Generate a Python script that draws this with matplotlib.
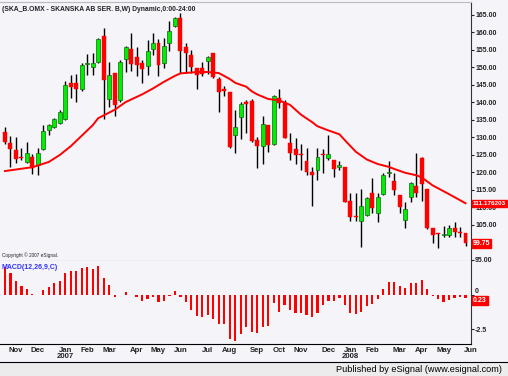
import numpy as np
import pandas as pd
import matplotlib
matplotlib.use("Agg")
import matplotlib.pyplot as plt
from matplotlib.patches import Rectangle

plt.rcParams['font.family'] = ['Liberation Sans', 'DejaVu Sans']

# weekly candles, SKANSKA AB SER. B (weeks ending friday)
opens = [131.6, 128.4, 126.4, 124.4, 123.0, 124.4, 122.1, 126.7, 132.1, 133.0,
         134.1, 135.3, 145.6, 145.6, 143.9, 151.0, 150.1, 151.6, 159.0, 141.0,
         148.4, 140.7, 152.4, 155.3, 153.0, 151.3, 150.4, 155.3, 157.0, 151.3,
         157.0, 161.9, 164.1, 155.9, 153.6, 149.9, 149.9, 151.9, 154.1, 146.7,
         143.7, 143.0, 130.7, 135.9, 140.1, 140.4, 129.3, 127.6, 133.6, 128.1,
         141.3, 139.9, 128.4, 126.7, 125.0, 123.3, 120.1, 120.7, 125.0, 124.1,
         123.6, 121.6, 121.6, 111.9, 107.6, 106.1, 107.9, 114.1, 108.4, 113.9,
         119.9, 117.6, 113.6, 106.4, 113.0, 116.1, 124.1, 115.3, 104.1, 102.7,
         102.1, 102.1, 104.1, 102.7, 102.7]
highs = [133.0, 130.4, 130.1, 127.0, 128.7, 125.3, 127.0, 133.6, 133.9, 135.6,
         137.9, 146.1, 147.9, 148.1, 151.3, 153.9, 154.1, 158.4, 161.3, 151.6,
         148.4, 152.1, 156.1, 159.9, 155.9, 152.1, 157.9, 159.9, 158.1, 158.4,
         163.3, 164.4, 165.6, 157.0, 155.0, 149.9, 151.6, 153.3, 154.1, 147.3,
         144.7, 143.0, 137.9, 140.1, 140.7, 141.0, 130.1, 136.1, 133.6, 142.1,
         143.9, 140.7, 131.3, 129.9, 128.1, 127.0, 121.6, 127.0, 126.7, 130.7,
         123.6, 123.3, 121.6, 114.1, 114.1, 115.3, 113.0, 118.4, 114.1, 119.9,
         123.3, 119.9, 113.6, 111.6, 117.3, 125.6, 124.4, 115.3, 104.1, 102.7,
         104.7, 105.0, 105.9, 104.4, 102.7]
lows = [128.1, 121.6, 122.7, 123.6, 122.7, 119.6, 119.3, 126.4, 130.7, 132.7,
        133.9, 135.0, 141.3, 140.1, 143.3, 147.9, 147.9, 151.3, 135.3, 138.7,
        136.1, 140.1, 148.7, 149.0, 147.6, 145.6, 147.9, 153.6, 147.6, 149.9,
        154.7, 161.6, 148.4, 148.4, 148.4, 143.9, 147.6, 148.1, 147.0, 137.3,
        141.9, 127.0, 125.6, 129.6, 131.3, 128.7, 121.3, 122.4, 125.9, 127.9,
        138.4, 129.9, 123.6, 122.4, 120.7, 119.3, 110.4, 117.9, 119.9, 123.6,
        118.7, 120.7, 111.6, 106.1, 106.1, 98.7, 107.6, 108.4, 105.9, 113.6,
        118.7, 113.6, 108.4, 104.1, 111.6, 113.0, 111.9, 103.9, 99.9, 98.4,
        101.6, 101.6, 101.6, 101.6, 99.0]
closes = [128.7, 126.7, 123.9, 124.1, 125.6, 121.3, 125.6, 131.9, 133.6, 135.3,
          137.3, 145.0, 144.4, 143.9, 150.7, 151.3, 151.3, 158.1, 146.4, 147.9,
          139.3, 151.6, 155.9, 151.0, 150.7, 149.6, 154.7, 157.0, 150.7, 156.1,
          160.4, 164.1, 154.7, 154.1, 150.1, 147.9, 148.1, 153.0, 147.3, 143.0,
          143.4, 127.3, 133.0, 139.6, 139.6, 129.0, 127.6, 133.9, 127.9, 141.9,
          139.9, 129.9, 125.6, 125.0, 124.9, 120.1, 119.3, 124.4, 124.9, 125.3,
          121.0, 122.1, 111.6, 107.3, 107.3, 110.4, 112.7, 109.9, 113.0, 119.3,
          120.1, 115.0, 110.1, 109.6, 117.0, 114.1, 116.7, 104.1, 102.1, 102.4,
          102.1, 104.1, 103.0, 102.6, 99.75]

# moving average (week index, value)
ma_week = [0, 5, 8, 10, 12, 14, 16, 17, 20, 22, 25, 27, 29, 31, 32, 35, 37, 39,
           41, 42, 44, 45, 46, 48, 50, 52, 54, 56, 57, 59, 61, 62, 64, 66, 68,
           70, 71, 73, 75, 76, 78, 81, 84]
ma_val = [120.4, 121.5, 123.0, 125.0, 127.5, 130.5, 133.5, 135.5, 137.9, 140.1,
          142.3, 144.0, 145.9, 147.6, 148.3, 148.7, 148.7, 148.4, 146.7, 145.6,
          144.5, 143.2, 142.3, 141.0, 140.6, 139.3, 136.5, 134.4, 133.2, 132.0,
          130.9, 129.2, 125.9, 123.7, 122.4, 121.6, 121.0, 119.9, 119.2, 118.6,
          116.3, 113.8, 111.2]

# MACD(12,26,9) histogram
macd = [2.06, 1.63, 1.02, 0.66, 0.41, 0.04, 0.03, 0.36, 0.61, 0.85,
        1.02, 1.58, 1.75, 1.75, 1.99, 2.06, 1.90, 2.14, 1.26, 0.73,
        -0.17, 0.03, 0.24, 0.03, -0.17, -0.44, -0.32, -0.12, -0.49, -0.41,
        -0.04, 0.32, -0.12, -0.53, -1.09, -1.53, -1.63, -1.46, -1.75, -2.12,
        -2.12, -3.21, -3.33, -2.85, -2.36, -2.68, -2.75, -2.31, -2.26, -0.61,
        -1.22, -0.73, -1.09, -1.29, -1.29, -1.46, -1.58, -1.34, -0.73, -0.41,
        -0.41, -0.24, -0.73, -1.29, -1.41, -1.22, -0.80, -0.66, -0.32, 0.41,
        0.92, 0.92, 0.66, 0.49, 0.90, 0.90, 1.09, 0.41, -0.07, -0.32,
        -0.49, -0.36, -0.24, -0.17, -0.24]

last_ma = "111.176203"
last_close = "99.75"
last_macd = "0.23"
price_ticks = [95, 105, 110, 115, 120, 125, 130, 135, 140, 145, 150, 155, 160, 165]

weeks = pd.date_range("2006-10-20", periods=len(closes) + 1, freq="W-FRI")

bg = "#f5f4f8"
green = "#00ee00"
red = "#ff0000"

fig = plt.figure(figsize=(5.08, 3.76), dpi=100, facecolor=bg)
W, H = 508.0, 376.0

ax = fig.add_axes([0, 1 - 261 / H, 471 / W, 259 / H], facecolor=bg)
ax2 = fig.add_axes([0, 1 - 344 / H, 471 / W, 83 / H], facecolor=bg, sharex=ax)

x = np.arange(len(closes))
o = np.array(opens); c = np.array(closes)
up = c >= o
ax.vlines(x, lows, highs, color="black", lw=1, zorder=1)
bottom = np.minimum(o, c)
height = np.maximum(np.abs(c - o), 0.3)
ax.bar(x[up], height[up], bottom=bottom[up], width=0.72, color=green,
       edgecolor="#116611", lw=0.5, zorder=2)
ax.bar(x[~up], height[~up], bottom=bottom[~up], width=0.72, color=red,
       edgecolor=red, lw=0.3, zorder=2)
ax.plot(ma_week, ma_val, color=red, lw=1.4, zorder=3)

ax.set_xlim(-0.91, 84.9)
ax.set_ylim(94.7, 168.7)
ax.yaxis.tick_right()
ax.set_yticks(price_ticks)
ax.set_yticklabels(["%.2f" % v for v in price_ticks])
ax.tick_params(axis="y", length=2, pad=1, labelsize=5.0, colors="#222222")
for t in ax.get_yticklabels():
    t.set_fontweight("bold")
ax.tick_params(axis="x", bottom=False, labelbottom=False)
ax.spines["left"].set_visible(False)
ax.spines["right"].set_color("#333333")
ax.spines["top"].set_color("#bbbbbb")
ax.spines["bottom"].set_color("#999999")

ax.text(0.004, 0.985, "(SKA_B.OMX - SKANSKA AB SER. B,W) Dynamic,0:00-24:00",
        transform=ax.transAxes, ha="left", va="top", fontsize=4.9,
        color="#222222", fontweight="bold")
ax.text(0.004, 0.01, "Copyright \u00a9 2007 eSignal.", transform=ax.transAxes,
        ha="left", va="bottom", fontsize=3.4, color="#222222")

box = dict(boxstyle="square,pad=0.15", fc=red, ec=red)
ax.annotate(last_ma, xy=(1.004, float(last_ma)), xycoords=("axes fraction", "data"),
            ha="left", va="center", fontsize=4.6, color="white", fontweight="bold",
            bbox=box, annotation_clip=False, zorder=5)
ax.annotate(last_close, xy=(1.004, float(last_close)), xycoords=("axes fraction", "data"),
            ha="left", va="center", fontsize=5.0, color="white", fontweight="bold",
            bbox=box, annotation_clip=False, zorder=5)

# MACD panel
ax2.bar(x, macd, width=0.4, color=red, zorder=2)
ax2.set_ylim(-3.58, 2.48)
ax2.yaxis.tick_right()
ax2.set_yticks([0, -2.5])
ax2.set_yticklabels(["0", "-2.5"])
ax2.tick_params(axis="y", length=2, pad=1, labelsize=5.0, colors="#222222")
for t in ax2.get_yticklabels():
    t.set_fontweight("bold")
ax2.yaxis.get_majorticklabels()[0].set_va("bottom")
ax2.spines["left"].set_visible(False)
ax2.spines["top"].set_visible(False)
ax2.spines["right"].set_color("#333333")
ax2.spines["bottom"].set_color("black")
ax2.text(0.004, 0.96, "MACD(12,26,9,C)", transform=ax2.transAxes, ha="left",
         va="top", fontsize=5.0, color="#3333ff", fontweight="bold")
ax2.annotate(last_macd, xy=(1.004, -0.42),
             xycoords=("axes fraction", "data"), ha="left", va="center",
             fontsize=5.0, color="white", fontweight="bold", bbox=box,
             annotation_clip=False)

# month labels at the first week of each month
ticks, labels, years = [], [], []
prev = None
for i, d in enumerate(weeks):
    if prev is not None and d.month != prev:
        ticks.append(i)
        labels.append(d.strftime("%b"))
        if d.month == 1:
            years.append((i, str(d.year)))
    prev = d.month
ax2.set_xticks(ticks)
ax2.set_xticklabels(labels)
ax2.tick_params(axis="x", length=0, pad=2, labelsize=5.6, colors="#222222")
for t in ax2.get_xticklabels():
    t.set_fontweight("bold")
for i, yr in years:
    ax2.text(i, -0.11, yr, transform=ax2.get_xaxis_transform(), ha="center",
             va="top", fontsize=5.6, fontweight="bold", color="#222222")

# footer
fig.patches.append(Rectangle((0, 0), 1, 14 / H, transform=fig.transFigure,
                             fc="#ececec", ec="none"))
fig.add_artist(plt.Line2D([0, 1], [14 / H, 14 / H], color="black", lw=0.8,
                          transform=fig.transFigure))
fig.text(0.988, 7 / H, "Published by eSignal (www.esignal.com)", ha="right",
         va="center", fontsize=6.6, color="black")

fig.savefig("out.png", dpi=100, facecolor=bg)
